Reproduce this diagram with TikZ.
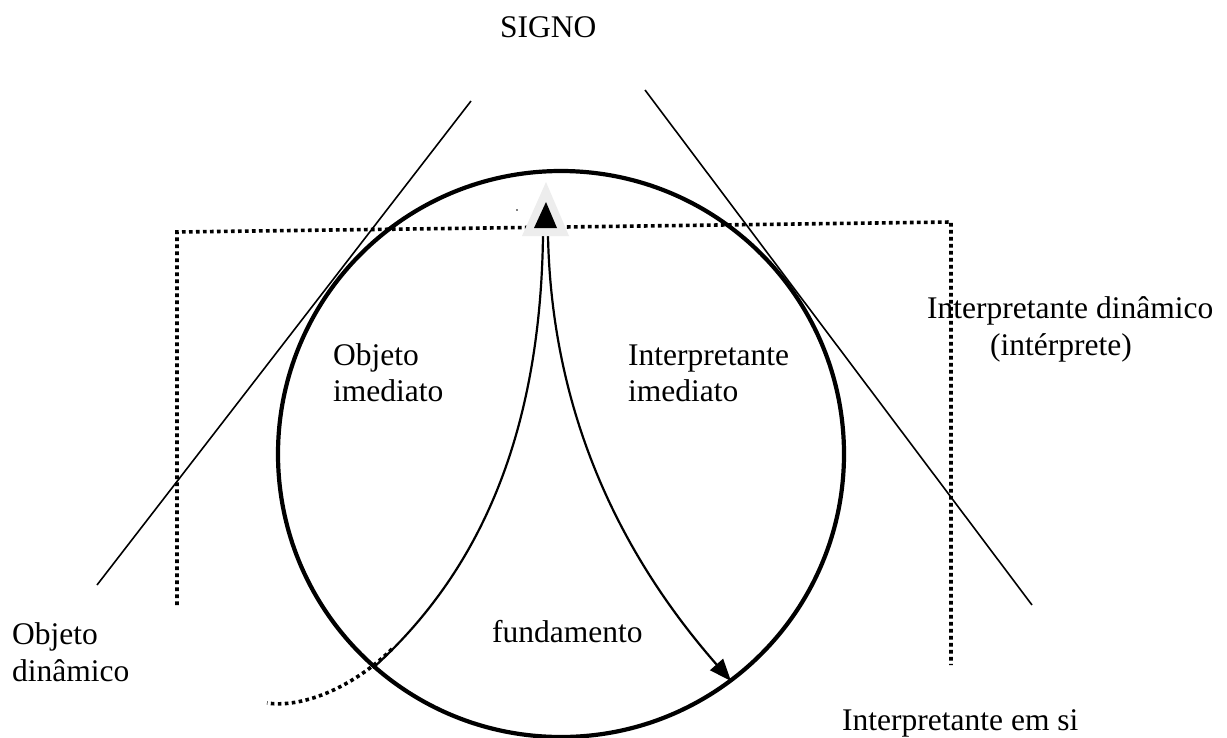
\documentclass[tikz,border=0pt]{standalone}
\usepackage{fontspec}
\setmainfont{Liberation Serif}
\usetikzlibrary{arrows.meta}
\begin{document}
\begin{tikzpicture}[x=1pt,y=-1pt,
  lbl/.style={anchor=base west, inner sep=0pt, font=\fontsize{31.5}{36.5}\selectfont},
  dots/.style={line width=3.6pt, dash pattern=on 3.6pt off 3.4pt},
  tang/.style={line width=1.6pt},
  ring/.style={line width=4.2pt},
  curv/.style={line width=2.2pt}]
\useasboundingbox (0,0) rectangle (1227,737);
\fill[white] (0,0) rectangle (1227,737);
% coordinates
\coordinate (dl0) at (177,605);
\coordinate (dl1) at (177,232);
\coordinate (dr1) at (951,222);
\coordinate (dr0) at (951,665);
\coordinate (tl0) at (471,101);
\coordinate (tl1) at (97,585);
\coordinate (tr0) at (645,90);
\coordinate (tr1) at (1032,605);
\coordinate (ctr) at (561,454);
\coordinate (cl) at (543,236);
\coordinate (cle) at (373,668);
\coordinate (cr) at (548,236);
\coordinate (tip) at (731,681);
\coordinate (ds0) at (392,649);
\coordinate (ds1) at (267,703);
% dotted frame
\draw[dots] (dl0) -- (dl1) -- (dr1) -- (dr0);
% tangent lines
\draw[tang] (tl0) -- (tl1);
\draw[tang] (tr0) -- (tr1);
% circle
\draw[ring] (ctr) circle (283);
% curves
\draw[curv] (cl) .. controls (540,450) and (470,580) .. (cle);
\draw[curv,-{Triangle[length=22pt,width=17pt]}] (cr) .. controls (552,420) and (625,560) .. (tip);
\draw[dots] (ds0) .. controls (350,690) and (300,708) .. (ds1);
% triangles
\fill[black!7] (546,182) -- (569,236) -- (522,236) -- cycle;
\fill[black] (546,202) -- (557,228) -- (534,228) -- cycle;
\fill (517,210) circle (0.9);
% labels
\node[lbl] (signo) at (500,37) {SIGNO};
\node[lbl] (oi1) at (333,365) {Objeto};
\node[lbl] (oi2) at (333,401) {imediato};
\node[lbl] (ii1) at (628,365) {Interpretante};
\node[lbl] (ii2) at (628,401) {imediato};
\node[lbl] (id1) at (927,318) {Interpretante dinâmico};
\node[lbl] (id2) at (990,355) {(intérprete)};
\node[lbl] (od1) at (12,644) {Objeto};
\node[lbl] (od2) at (12,681) {dinâmico};
\node[lbl] (fund) at (492,642) {fundamento};
\node[lbl] (ies) at (842,730) {Interpretante em si};
\end{tikzpicture}
\end{document}
